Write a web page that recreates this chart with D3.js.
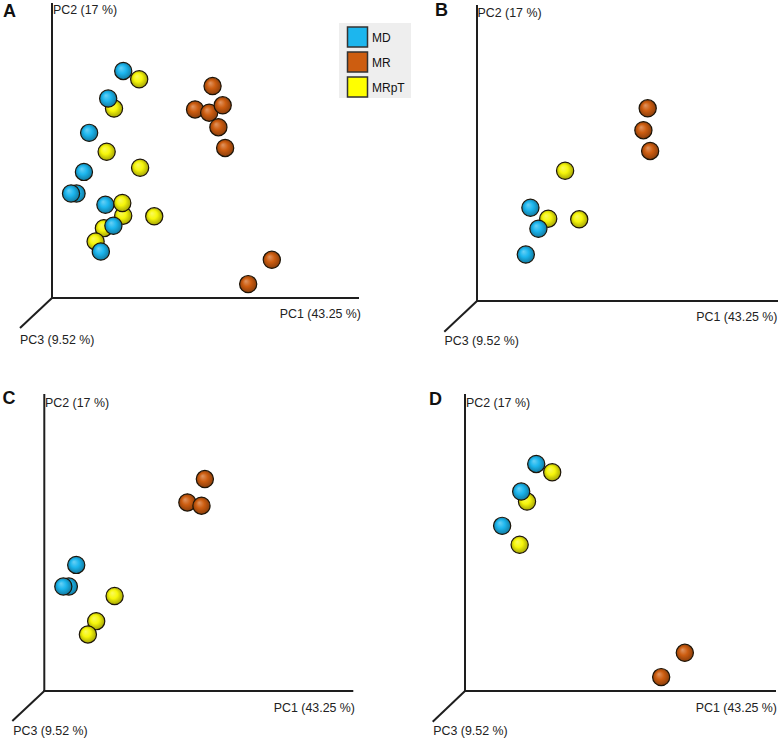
<!DOCTYPE html>
<html>
<head>
<meta charset="utf-8">
<script src="https://cdn.jsdelivr.net/npm/d3@7"></script>
<style>
  html, body { margin: 0; padding: 0; background: #fff; }
  svg { display: block; }
</style>
</head>
<body>
<svg id="chart" width="778" height="740"></svg>
<script>
// ---------------- DATA ----------------
const groups = ["MD", "MR", "MRpT"];
// samples listed back-to-front (drawing order)
const sampleIds = ["MR3","MR4","MR1","MR2","MR5","MR6","MR7","MR8",
  "MD1","MRpT1","MRpT2","MD2","MD3","MRpT3","MRpT4","MD4","MD5","MD6",
  "MD7","MRpT6","MRpT5","MRpT7","MRpT8","MD8","MRpT9","MD9"];
const sampleGroup = ["MR","MR","MR","MR","MR","MR","MR","MR",
  "MD","MRpT","MRpT","MD","MD","MRpT","MRpT","MD","MD","MD",
  "MD","MRpT","MRpT","MRpT","MRpT","MD","MRpT","MD"];
// projected position along PC1 axis and PC2 axis (0-100 % of axis length)
const pc1 = [46.6,51.2,52.3,55.6,54.2,56.4,71.6,63.9,
  23.2,28.4,20.2,18.3,12.1,17.8,28.7,10.4,8.0,6.2,
  17.4,23.2,22.9,33.3,16.9,20.0,14.2,15.9];
const pc2 = [63.7,62.6,71.6,65.1,57.7,50.7,12.9,4.7,
  76.7,73.9,64.0,67.4,55.8,49.4,44.0,42.6,35.3,35.3,
  31.5,27.8,32.1,27.6,23.6,24.4,19.1,15.7];
const panelNames = ["A","B","C","D"];
const panelA = sampleIds.slice();
const panelB = ["MR2","MR5","MR6","MRpT4","MRpT6","MRpT7","MD7","MD8","MD9"];
const panelC = ["MR1","MR3","MR4","MD4","MD5","MD6","MRpT5","MRpT8","MRpT9"];
const panelD = ["MD1","MD2","MD3","MRpT1","MRpT2","MRpT3","MR7","MR8"];
const axisTitles = ["PC1 (43.25 %)", "PC2 (17 %)", "PC3 (9.52 %)"];

// ---------------- STYLE / LAYOUT ----------------
const groupColor = { MD: "#1cb6ee", MR: "#cd5d10", MRpT: "#f6f60a" };
const FONT = "'Liberation Sans', Arial, Helvetica, sans-serif";
const layouts = [
  { ox: 52,    oy: 298, xEnd: 359,   yTop: 3,   dx: 20,    dy: 328,
    lx: 3,   ly: 17,    p2x: 53,    p2y: 13.5, p1x: 361,   p1y: 318,   p3x: 20,    p3y: 344 },
  { ox: 477,   oy: 301, xEnd: 778,   yTop: 5,   dx: 444.3, dy: 331.7,
    lx: 435, ly: 15.5,  p2x: 477.5, p2y: 16.5, p1x: 777.5, p1y: 321,   p3x: 444.5, p3y: 345 },
  { ox: 44.3,  oy: 691, xEnd: 353.3, yTop: 394, dx: 12.3,  dy: 721,
    lx: 2.5, ly: 403.5, p2x: 45,    p2y: 406.5,p1x: 355,   p1y: 711.5, p3x: 13.3,  p3y: 735 },
  { ox: 465,   oy: 691, xEnd: 776,   yTop: 394, dx: 432.7, dy: 721.7,
    lx: 429, ly: 405,   p2x: 466,   p2y: 406.5,p1x: 777,   p1y: 711.5, p3x: 433.3, p3y: 734.5 }
];
const X_LEN = 307, Y_LEN = 296;

const svg = d3.select("#chart");
const defs = svg.append("defs");
groups.forEach(g => {
  const c = groupColor[g];
  const grad = defs.append("radialGradient")
    .attr("id", "grad-" + g)
    .attr("cx", "50%").attr("cy", "50%").attr("r", "55%")
    .attr("fx", "36%").attr("fy", "32%");
  grad.append("stop").attr("offset", "0%").attr("stop-color", d3.interpolateRgb(c, "#ffffff")(0.35));
  grad.append("stop").attr("offset", "45%").attr("stop-color", c);
  grad.append("stop").attr("offset", "85%").attr("stop-color", d3.color(c).darker(0.9).formatHex());
  grad.append("stop").attr("offset", "100%").attr("stop-color", d3.color(c).darker(1.8).formatHex());
});

const samples = sampleIds.map((id, i) => ({ id, group: sampleGroup[i], x: pc1[i], y: pc2[i], order: i }));
const panelSets = [panelA, panelB, panelC, panelD];

panelNames.forEach((name, pi) => {
  const L = layouts[pi];
  const g = svg.append("g");
  const xs = d3.scaleLinear().domain([0, 100]).range([L.ox, L.ox + X_LEN]);
  const ys = d3.scaleLinear().domain([0, 100]).range([L.oy, L.oy - Y_LEN]);

  // axes
  const axStyle = sel => sel.attr("stroke", "#1e1e1e").attr("stroke-width", 2).attr("fill", "none");
  g.append("line").attr("x1", L.ox).attr("y1", L.oy).attr("x2", L.ox).attr("y2", L.yTop).call(axStyle);
  g.append("line").attr("x1", L.ox - 1).attr("y1", L.oy).attr("x2", L.xEnd).attr("y2", L.oy).call(axStyle);
  g.append("line").attr("x1", L.ox).attr("y1", L.oy).attr("x2", L.dx).attr("y2", L.dy).call(axStyle);

  // panel letter
  g.append("text").attr("x", L.lx).attr("y", L.ly).text(name)
    .attr("font-family", FONT).attr("font-weight", "bold").attr("font-size", 18).attr("fill", "#111");

  // axis titles
  const tStyle = sel => sel.attr("font-family", FONT).attr("font-size", 12.4).attr("fill", "#222");
  g.append("text").attr("x", L.p1x).attr("y", L.p1y).attr("text-anchor", "end").text(axisTitles[0]).call(tStyle);
  g.append("text").attr("x", L.p2x).attr("y", L.p2y).text(axisTitles[1]).call(tStyle);
  g.append("text").attr("x", L.p3x).attr("y", L.p3y).text(axisTitles[2]).call(tStyle);

  // points
  const set = new Set(panelSets[pi]);
  const pts = samples.filter(d => set.has(d.id)).sort((a, b) => a.order - b.order);
  g.selectAll("circle.pt").data(pts).join("circle")
    .attr("class", "pt")
    .attr("cx", d => xs(d.x))
    .attr("cy", d => ys(d.y))
    .attr("r", 8.6)
    .attr("fill", d => "url(#grad-" + d.group + ")")
    .attr("stroke", "#1c1408")
    .attr("stroke-width", 1.2);
});

// legend (panel A)
const leg = svg.append("g");
leg.append("rect").attr("x", 339).attr("y", 23).attr("width", 72).attr("height", 75).attr("fill", "#eeeeee");
const legY = d3.scalePoint().domain(groups).range([27, 77]);
groups.forEach(gname => {
  leg.append("rect").attr("x", 347.5).attr("y", legY(gname)).attr("width", 20).attr("height", 20)
    .attr("fill", groupColor[gname] === "#f6f60a" ? "#ffff00" : groupColor[gname])
    .attr("stroke", "#333").attr("stroke-width", 1.5);
  leg.append("text").attr("x", 372).attr("y", legY(gname) + 14.5).text(gname)
    .attr("font-family", FONT).attr("font-size", 12).attr("fill", "#111");
});
</script>
</body>
</html>
